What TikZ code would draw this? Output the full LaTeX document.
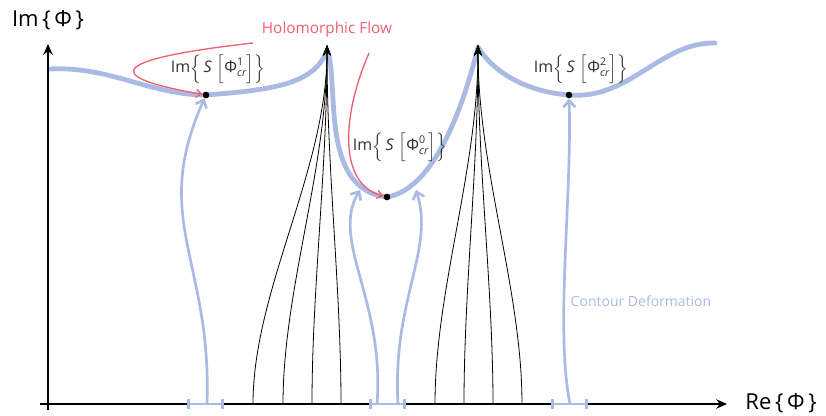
\documentclass[tikz,border=0pt]{standalone}
\usepackage{amsmath}
\usepackage{fontspec}
\setmainfont{Open Sans}
\usetikzlibrary{arrows.meta}
\definecolor{contourblue}{RGB}{170,186,228}
\definecolor{flowred}{RGB}{236,96,116}
\newcommand{\ImS}[1]{Im$\left\{\,\textit{S}\,\left[\text{Φ}^{\text{#1}}_{\textit{cr}}\right]\right\}$}

\begin{document}
\begin{tikzpicture}[
   x=0.75pt, y=-0.75pt,
   axis/.style   = {line width=1.5pt, -{Stealth[length=8pt,width=7pt]}},
   surf/.style   = {contourblue, line width=3.6pt, line cap=round, line join=round},
   fan/.style    = {line width=0.6pt, -{Stealth[length=8pt,width=6pt]}},
   deform/.style = {contourblue, line width=2pt, -{Straight Barb[length=5pt,width=9pt]}},
   span/.style   = {contourblue, line width=2pt, {Bar[width=7pt]}-{Bar[width=7pt]}},
   flow/.style   = {flowred, line width=1pt, -{Straight Barb[length=4pt,width=6pt]}},
   crit/.style   = {circle, fill, inner sep=0pt, minimum size=5pt},
   lab/.style    = {font=\fontsize{12}{14}\selectfont, text=black!80},
   big/.style    = {font=\fontsize{16.5}{19}\selectfont}
]
\useasboundingbox (0,0) rectangle (826,416);

% axes
\coordinate (ybot) at (48,410);
\coordinate (ytop) at (48,44);
\coordinate (xleft) at (40,404);
\coordinate (xright) at (727,404);
\coordinate (peakL) at (327,45);
\coordinate (peakR) at (478,45);

% critical points
\coordinate (p1) at (206,95);
\coordinate (p0) at (387,197);
\coordinate (p2) at (569,95);

% Im S along the thimbles
\draw[surf] (50,69) .. controls (110,66) and (150,95) .. (p1)
   .. controls (270,90) and (315,85) .. (327,50)
   .. controls (340,80) and (318,190) .. (p0)
   .. controls (430,190) and (460,120) .. (478,47)
   .. controls (495,75) and (530,92) .. (p2)
   .. controls (630,100) and (660,42) .. (715,43);

\node[crit] (c1) at (p1) {};
\node[crit] (c0) at (p0) {};
\node[crit] (c2) at (p2) {};

\draw[axis] (xleft) -- (xright);
\draw[axis] (ybot) -- (ytop);

% flow lines into the peaks
\foreach \x [count=\i] in {253,283,312,341}
   \draw[fan] (\x,404) coordinate (fl\i) .. controls (\x,290) and (327,170) .. (peakL);
\foreach \x [count=\i] in {435,464,493,522}
   \draw[fan] (\x,404) coordinate (fr\i) .. controls (\x,290) and (478,170) .. (peakR);

% deformed contours
\coordinate (a1) at (207,404);
\coordinate (a0l) at (377,404);
\coordinate (a0r) at (398,404);
\coordinate (a2) at (570,404);
\coordinate (e0l) at (360,190);
\coordinate (e0r) at (416,190);
\draw[span] (187,404) -- (224,404);
\draw[span] (369,404) -- (406,404);
\draw[span] (551,404) -- (588,404);
\draw[deform] (a1) .. controls (212,260) and (150,220) .. (c1);
\draw[deform] (a0l) .. controls (385,300) and (330,240) .. (e0l);
\draw[deform] (a0r) .. controls (392,300) and (435,250) .. (e0r);
\draw[deform] (a2) .. controls (555,330) and (572,200) .. (c2);

% holomorphic flow
\coordinate (f1) at (253,43);
\coordinate (f0) at (369,53);
\draw[flow] (f1) .. controls (85,62) and (120,80) .. (c1);
\draw[flow] (f0) .. controls (340,120) and (340,185) .. (c0);

% labels
\node[big] (ylab) at (48,20) {Im\,\{\,Φ\,\}};
\node[big] (xlab) at (781,403) {Re\,\{\,Φ\,\}};
\node[lab] (l1) at (218,69)  {\ImS{1}};
\node[lab] (l0) at (400,147) {\ImS{0}};
\node[lab] (l2) at (581,69)  {\ImS{2}};
\node[text=flowred, font=\fontsize{11.5}{13}\selectfont] (flowlab) at (327,30) {Holomorphic Flow};
\node[text=contourblue, font=\fontsize{10.5}{12}\selectfont] (deflab) at (641,301) {Contour Deformation};
\end{tikzpicture}
\end{document}
